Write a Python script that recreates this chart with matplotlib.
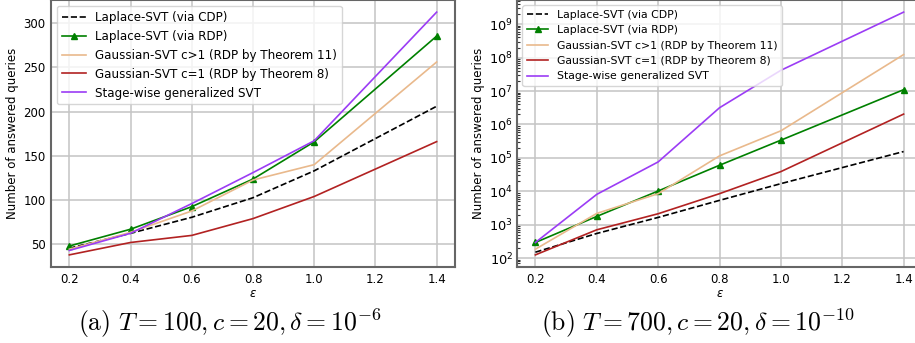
import numpy as np
import matplotlib.pyplot as plt

# ---- data ----
eps = [0.2, 0.4, 0.6, 0.8, 1.0, 1.4]

labels = ["Laplace-SVT (via CDP)",
          "Laplace-SVT (via RDP)",
          "Gaussian-SVT c>1 (RDP by Theorem 11)",
          "Gaussian-SVT c=1 (RDP by Theorem 8)",
          "Stage-wise generalized SVT"]

# (a) T=100
a_lap_cdp = [45.5, 62.4, 80.5, 102.6, 133, 206]
a_lap_rdp = [48, 67, 92.5, 123.7, 165.8, 285.3]
a_gauss_c = [44.4, 63.5, 87.6, 122.6, 140, 256]
a_gauss_1 = [38, 52, 60, 79, 104, 166]
a_stage = [43, 62.4, 96, 131, 167, 312.4]

# (b) T=700, log10 of answered queries
b_lap_cdp = [2.18, 2.74, 3.22, 3.73, 4.23, 5.19]
b_lap_rdp = [2.47, 3.25, 4.01, 4.78, 5.53, 7.04]
b_gauss_c = [2.27, 3.34, 3.93, 5.06, 5.81, 8.09]
b_gauss_1 = [2.10, 2.85, 3.33, 3.93, 4.59, 6.31]
b_stage = [2.47, 3.91, 4.88, 6.50, 7.62, 9.36]

# ---- styles ----
styles = [dict(color='black', ls='--'),
          dict(color='green', marker='^', ms=4),
          dict(color='#e9b98c'),
          dict(color='#b22222'),
          dict(color='#9b3cf5')]


def draw(ax, series, legend_size):
    for vals, lab, st in zip(series, labels, styles):
        ax.plot(eps, vals, label=lab, lw=1.2, **st)
    ax.grid(True, color='#c4c4c4', lw=1.1)
    ax.set_axisbelow(True)
    for s in ax.spines.values():
        s.set_color('#666666')
        s.set_linewidth(1.5)
    ax.tick_params(which='major', length=0, pad=4, labelsize=8.5)
    ax.tick_params(which='minor', length=2, width=0.8, direction='in', color='#333333')
    ax.set_xticks([0.2, 0.4, 0.6, 0.8, 1.0, 1.2, 1.4])
    ax.set_xlabel(r'$\varepsilon$', fontsize=8.5, labelpad=1)
    ax.set_ylabel('Number of answered queries', fontsize=8.5, labelpad=3)
    ax.legend(loc='upper left', fontsize=legend_size, framealpha=0.8,
              handlelength=2.0)


fig = plt.figure(figsize=(9.15, 3.43), dpi=100)
ax1 = fig.add_axes([51 / 915, 76 / 343, 404 / 915, 267 / 343])
ax2 = fig.add_axes([517 / 915, 76 / 343, 405 / 915, 267 / 343])

draw(ax1, [a_lap_cdp, a_lap_rdp, a_gauss_c, a_gauss_1, a_stage], 8.6)
ax1.set_yticks([50, 100, 150, 200, 250, 300])

b_series = [list(10 ** np.array(v)) for v in
            [b_lap_cdp, b_lap_rdp, b_gauss_c, b_gauss_1, b_stage]]
ax2.set_yscale('log')
draw(ax2, b_series, 7.8)
ax2.tick_params(axis='y', which='major', labelsize=9.3, pad=3)

fig.text(230 / 915, 1 - 323 / 343, r'$\mathrm{(a)}\ T=100, c=20, \delta=10^{-6}$',
         ha='center', va='center', fontsize=18.5, math_fontfamily='cm')
fig.text(698 / 915, 1 - 323 / 343, r'$\mathrm{(b)}\ T=700, c=20, \delta=10^{-10}$',
         ha='center', va='center', fontsize=18.5, math_fontfamily='cm')

fig.savefig('out.png', dpi=100)
